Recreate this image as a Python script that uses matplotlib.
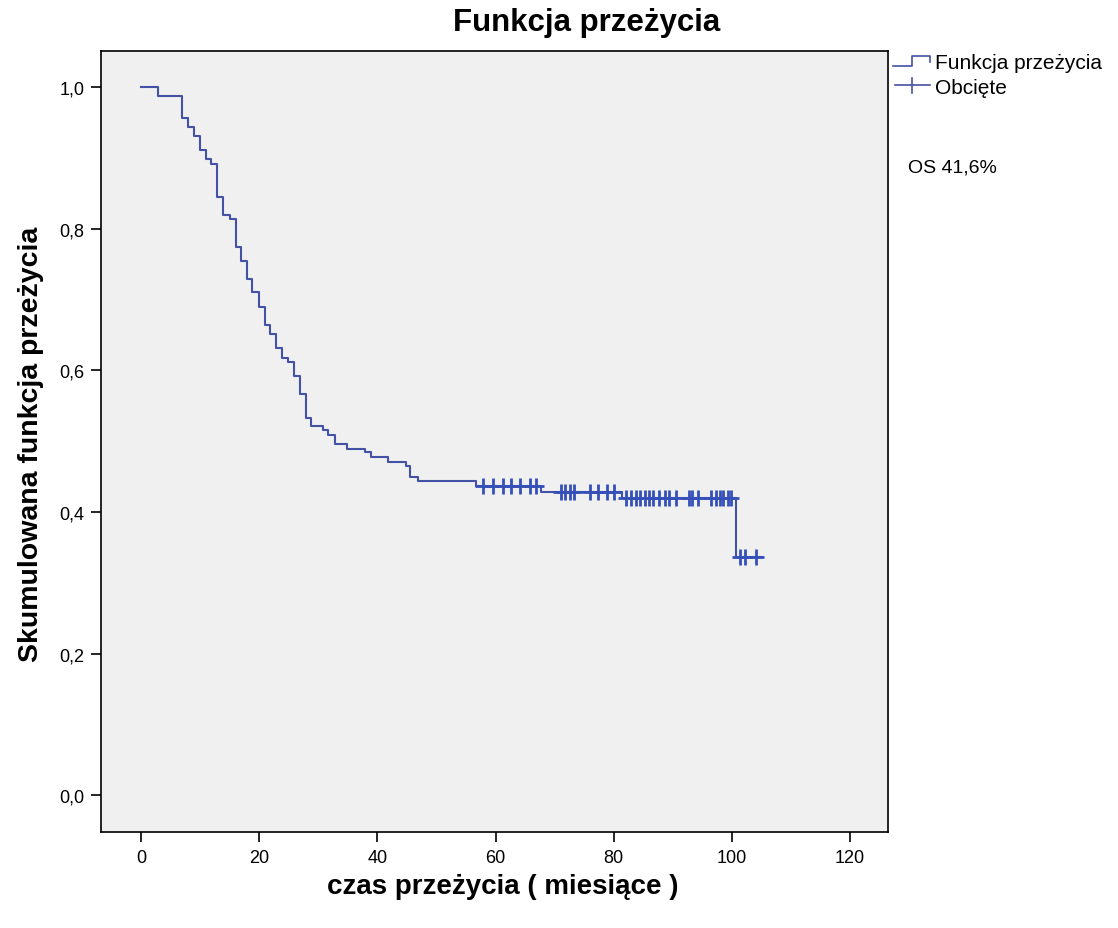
import matplotlib
matplotlib.use("Agg")
import matplotlib.pyplot as plt
from matplotlib.lines import Line2D

plt.rcParams['font.family'] = ['Liberation Sans', 'DejaVu Sans']

# Kaplan-Meier step curve (time in months, survival)
step_times = [0, 2.9, 7.0, 8.0, 9.0, 10.0, 11.0, 11.9, 12.9, 13.9, 15.0, 16.1, 16.9,
              17.9, 18.8, 20.0, 21.0, 21.9, 22.8, 23.8, 24.9, 25.9, 26.9, 27.9, 28.8,
              30.8, 31.7, 32.8, 34.8, 37.9, 39.0, 41.8, 44.9, 45.5, 46.9, 56.7, 67.7,
              81.4, 100.7, 105.0]
step_surv = [1.0, 0.988, 0.957, 0.944, 0.931, 0.911, 0.898, 0.892, 0.845, 0.820, 0.814,
             0.774, 0.755, 0.729, 0.710, 0.689, 0.664, 0.651, 0.632, 0.618, 0.612, 0.592,
             0.566, 0.533, 0.521, 0.516, 0.508, 0.496, 0.489, 0.484, 0.477, 0.471, 0.465,
             0.450, 0.444, 0.437, 0.428, 0.419, 0.336, 0.336]

# Censored observations
censor_times = [57.8, 59.5, 61.2, 62.6, 64.1, 65.9, 66.8,
                71.0, 71.8, 72.6, 73.3, 76.0, 77.4, 78.8, 80.0,
                82.1, 82.9, 83.7, 84.5, 85.2, 86.0, 86.7, 87.6, 88.6, 89.4, 90.6,
                92.7, 93.3, 94.2, 96.5, 97.3, 97.9, 98.5, 99.3, 99.8,
                101.3, 102.2, 104.0]
censor_surv = [0.437] * 7 + [0.428] * 8 + [0.419] * 20 + [0.336] * 3

x_ticks = [0, 20, 40, 60, 80, 100, 120]
y_ticks = [0.0, 0.2, 0.4, 0.6, 0.8, 1.0]
y_tick_labels = ["0,0", "0,2", "0,4", "0,6", "0,8", "1,0"]

title = "Funkcja przeżycia"
x_label = "czas przeżycia ( miesiące )"
y_label = "Skumulowana funkcja przeżycia"
legend_labels = ["Funkcja przeżycia", "Obcięte"]
annotation = "OS 41,6%"

line_color = "#4452A6"
mark_color = "#3550B8"

W, H = 1118, 929
fig = plt.figure(figsize=(W / 100, H / 100), dpi=100)
fig.patch.set_facecolor("white")

ax = fig.add_axes([101 / W, 1 - 833 / H, (888 - 101) / W, (833 - 52) / H])
ax.set_facecolor("#F0F0F0")

ax.step(step_times, step_surv, where="post", color=line_color, lw=1.5)
ax.plot(censor_times, censor_surv, linestyle="none", marker="+", markersize=12,
        markeredgewidth=2.0, color=mark_color)

ax.set_xlim(-6.77, 126.4)
ax.set_ylim(-0.052, 1.051)
ax.set_xticks(x_ticks)
ax.set_xticklabels([str(v) for v in x_ticks])
ax.set_yticks(y_ticks)
ax.set_yticklabels(y_tick_labels)
ax.tick_params(axis="both", direction="out", length=7, width=1.2, labelsize=13,
               colors="black", pad=5)
for s in ax.spines.values():
    s.set_linewidth(1.2)
    s.set_color("black")


def fx(px):
    return px / W


def fy(py):
    return 1 - py / H


fig.text(fx(503), fy(887), x_label, ha="center", va="center", fontsize=20,
         fontweight="bold")
fig.text(fx(31), fy(444), y_label, ha="center", va="center", fontsize=20.5,
         fontweight="bold", rotation=90)

fig.text(fx(587), fy(23), title, ha="center", va="center", fontsize=22.5,
         fontweight="bold")

# Legend (manual, outside the plot)
fig.add_artist(Line2D([fx(893), fx(912), fx(912), fx(930), fx(930)],
                      [fy(67), fy(67), fy(57), fy(57), fy(63)],
                      color=line_color, lw=1.2, transform=fig.transFigure))
fig.text(fx(935), fy(64), legend_labels[0], ha="left", va="center", fontsize=15)
fig.add_artist(Line2D([fx(895), fx(930)], [fy(86), fy(86)],
                      color=line_color, lw=1.2, transform=fig.transFigure))
fig.add_artist(Line2D([fx(912), fx(912)], [fy(79), fy(94)],
                      color=line_color, lw=1.2, transform=fig.transFigure))
fig.text(fx(935), fy(89), legend_labels[1], ha="left", va="center", fontsize=15)

fig.text(fx(908), fy(168), annotation, ha="left", va="center", fontsize=14)

fig.savefig("out.png", dpi=100)
